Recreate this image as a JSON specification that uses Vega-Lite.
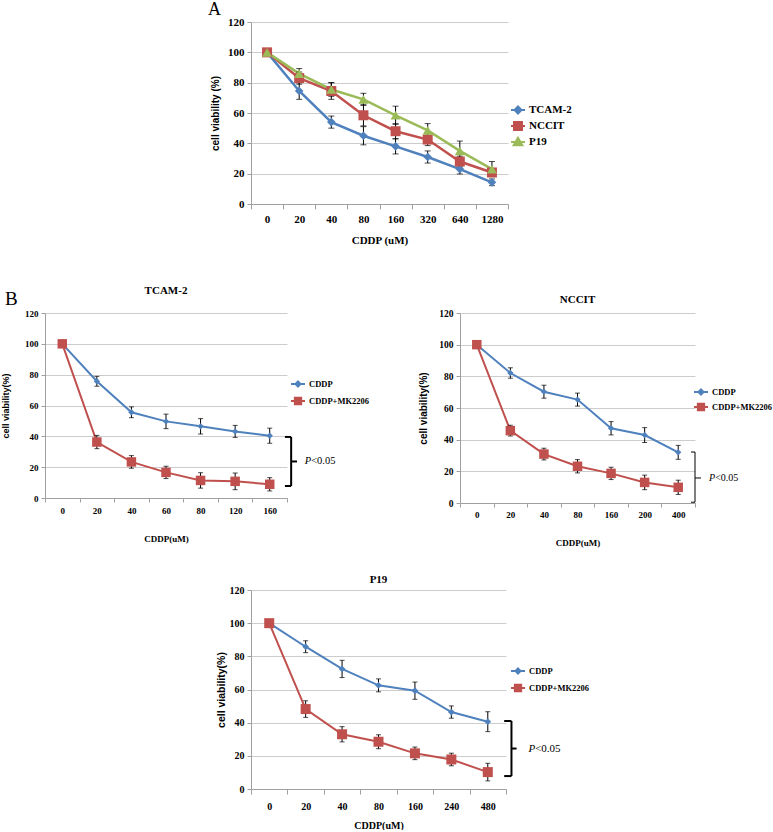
{
  "$schema": "https://vega.github.io/schema/vega-lite/v6.json",
  "background": "white",
  "padding": {"left": 1, "top": 0, "right": 0, "bottom": 0},
  "config": {
    "view": {"stroke": null},
    "axis": {"labelFont": "Liberation Serif", "labelFontWeight": "bold", "labelColor": "#000000", "domainColor": "#a0a0a0", "tickColor": "#a0a0a0", "gridColor": "#cccccc", "titleColor": "#000000", "titleFontWeight": "bold"},
    "legend": {"labelFont": "Liberation Serif", "labelFontWeight": "bold", "labelColor": "#000000", "padding": 0},
    "title": {"font": "Liberation Serif", "fontWeight": "bold", "color": "#000000"}
  },
  "datasets": {
    "A": [
      {"s": "TCAM-2", "dose": "0", "i": 0, "v": 100, "e": 0},
      {"s": "TCAM-2", "dose": "20", "i": 1, "v": 74.5, "e": 5.5},
      {"s": "TCAM-2", "dose": "40", "i": 2, "v": 54, "e": 4},
      {"s": "TCAM-2", "dose": "80", "i": 3, "v": 45, "e": 6},
      {"s": "TCAM-2", "dose": "160", "i": 4, "v": 38, "e": 5},
      {"s": "TCAM-2", "dose": "320", "i": 5, "v": 31, "e": 4},
      {"s": "TCAM-2", "dose": "640", "i": 6, "v": 23, "e": 3.2},
      {"s": "TCAM-2", "dose": "1280", "i": 7, "v": 14.3, "e": 2.2},
      {"s": "NCCIT", "dose": "0", "i": 0, "v": 100, "e": 0},
      {"s": "NCCIT", "dose": "20", "i": 1, "v": 83, "e": 4},
      {"s": "NCCIT", "dose": "40", "i": 2, "v": 74.5, "e": 5.5},
      {"s": "NCCIT", "dose": "80", "i": 3, "v": 58.5, "e": 7},
      {"s": "NCCIT", "dose": "160", "i": 4, "v": 48, "e": 5},
      {"s": "NCCIT", "dose": "320", "i": 5, "v": 42.5, "e": 4},
      {"s": "NCCIT", "dose": "640", "i": 6, "v": 28, "e": 3.5},
      {"s": "NCCIT", "dose": "1280", "i": 7, "v": 20.8, "e": 2.5},
      {"s": "P19", "dose": "0", "i": 0, "v": 100, "e": 0},
      {"s": "P19", "dose": "20", "i": 1, "v": 86, "e": 3.3},
      {"s": "P19", "dose": "40", "i": 2, "v": 75.5, "e": 4.5},
      {"s": "P19", "dose": "80", "i": 3, "v": 69, "e": 4},
      {"s": "P19", "dose": "160", "i": 4, "v": 58.5, "e": 6},
      {"s": "P19", "dose": "320", "i": 5, "v": 48.5, "e": 4.5},
      {"s": "P19", "dose": "640", "i": 6, "v": 35, "e": 6.5},
      {"s": "P19", "dose": "1280", "i": 7, "v": 23, "e": 5}
    ],
    "T": [
      {"s": "CDDP", "dose": "0", "i": 0, "v": 100, "e": 0},
      {"s": "CDDP", "dose": "20", "i": 1, "v": 75.7, "e": 3.2},
      {"s": "CDDP", "dose": "40", "i": 2, "v": 55.6, "e": 3.5},
      {"s": "CDDP", "dose": "60", "i": 3, "v": 49.7, "e": 4.7},
      {"s": "CDDP", "dose": "80", "i": 4, "v": 46.5, "e": 5},
      {"s": "CDDP", "dose": "120", "i": 5, "v": 43.2, "e": 3.9},
      {"s": "CDDP", "dose": "160", "i": 6, "v": 40.4, "e": 4.9},
      {"s": "CDDP+MK2206", "dose": "0", "i": 0, "v": 100, "e": 0},
      {"s": "CDDP+MK2206", "dose": "20", "i": 1, "v": 36.3, "e": 4.3},
      {"s": "CDDP+MK2206", "dose": "40", "i": 2, "v": 23.4, "e": 4.1},
      {"s": "CDDP+MK2206", "dose": "60", "i": 3, "v": 16.6, "e": 4},
      {"s": "CDDP+MK2206", "dose": "80", "i": 4, "v": 11.4, "e": 5},
      {"s": "CDDP+MK2206", "dose": "120", "i": 5, "v": 10.8, "e": 5.4},
      {"s": "CDDP+MK2206", "dose": "160", "i": 6, "v": 8.9, "e": 4.3}
    ],
    "N": [
      {"s": "CDDP", "dose": "0", "i": 0, "v": 100, "e": 0},
      {"s": "CDDP", "dose": "20", "i": 1, "v": 82.1, "e": 3.3},
      {"s": "CDDP", "dose": "40", "i": 2, "v": 70.3, "e": 4.1},
      {"s": "CDDP", "dose": "80", "i": 3, "v": 65.3, "e": 4.1},
      {"s": "CDDP", "dose": "160", "i": 4, "v": 47.2, "e": 4.2},
      {"s": "CDDP", "dose": "200", "i": 5, "v": 42.9, "e": 4.7},
      {"s": "CDDP", "dose": "400", "i": 6, "v": 32, "e": 4.4},
      {"s": "CDDP+MK2206", "dose": "0", "i": 0, "v": 100, "e": 0},
      {"s": "CDDP+MK2206", "dose": "20", "i": 1, "v": 45.7, "e": 3.4},
      {"s": "CDDP+MK2206", "dose": "40", "i": 2, "v": 30.9, "e": 3.7},
      {"s": "CDDP+MK2206", "dose": "80", "i": 3, "v": 23.2, "e": 4.2},
      {"s": "CDDP+MK2206", "dose": "160", "i": 4, "v": 18.7, "e": 3.9},
      {"s": "CDDP+MK2206", "dose": "200", "i": 5, "v": 13, "e": 4.6},
      {"s": "CDDP+MK2206", "dose": "400", "i": 6, "v": 9.9, "e": 4.5}
    ],
    "P": [
      {"s": "CDDP", "dose": "0", "i": 0, "v": 100, "e": 0},
      {"s": "CDDP", "dose": "20", "i": 1, "v": 85.8, "e": 3.6},
      {"s": "CDDP", "dose": "40", "i": 2, "v": 72.4, "e": 5.2},
      {"s": "CDDP", "dose": "80", "i": 3, "v": 62.5, "e": 3.9},
      {"s": "CDDP", "dose": "160", "i": 4, "v": 59.3, "e": 5.2},
      {"s": "CDDP", "dose": "240", "i": 5, "v": 46.4, "e": 3.7},
      {"s": "CDDP", "dose": "480", "i": 6, "v": 40.6, "e": 6},
      {"s": "CDDP+MK2206", "dose": "0", "i": 0, "v": 100, "e": 0},
      {"s": "CDDP+MK2206", "dose": "20", "i": 1, "v": 48.2, "e": 5},
      {"s": "CDDP+MK2206", "dose": "40", "i": 2, "v": 33, "e": 4.6},
      {"s": "CDDP+MK2206", "dose": "80", "i": 3, "v": 28.5, "e": 4.2},
      {"s": "CDDP+MK2206", "dose": "160", "i": 4, "v": 21.5, "e": 3.8},
      {"s": "CDDP+MK2206", "dose": "240", "i": 5, "v": 17.8, "e": 3.8},
      {"s": "CDDP+MK2206", "dose": "480", "i": 6, "v": 10.2, "e": 5.3}
    ],
    "brT": [
      {"x": 6.62, "x2": 6.62, "y": 7.8, "y2": 39.6},
      {"x": 6.44, "x2": 6.62, "y": 39.6, "y2": 39.6},
      {"x": 6.44, "x2": 6.62, "y": 7.8, "y2": 7.8},
      {"x": 6.62, "x2": 6.79, "y": 23.7, "y2": 23.7}
    ],
    "brN": [
      {"x": 6.5, "x2": 6.5, "y": 0.5, "y2": 32.2},
      {"x": 6.38, "x2": 6.5, "y": 32.2, "y2": 32.2},
      {"x": 6.38, "x2": 6.5, "y": 0.5, "y2": 0.5},
      {"x": 6.5, "x2": 6.68, "y": 15.8, "y2": 15.8}
    ],
    "brP": [
      {"x": 6.65, "x2": 6.65, "y": 7.8, "y2": 41},
      {"x": 6.45, "x2": 6.65, "y": 41, "y2": 41},
      {"x": 6.45, "x2": 6.65, "y": 7.8, "y2": 7.8},
      {"x": 6.65, "x2": 6.79, "y": 24.4, "y2": 24.4}
    ],
    "one": [{"n": 1}]
  },
  "spacing": 0,
  "resolve": {"scale": {"color": "independent"}, "legend": {"color": "independent"}},
  "vconcat": [
    {
      "hconcat": [
        {"width": 206, "height": 262, "data": {"name": "one"}, "mark": {"type": "text", "text": ""}, "encoding": {}},
        {
          "width": 257, "height": 182,
          "resolve": {"axis": {"x": "independent", "y": "independent"}},
          "layer": [
            {
              "data": {"name": "A"},
              "mark": {"type": "line", "strokeWidth": 2.5},
              "encoding": {
                "x": {"field": "i", "type": "quantitative", "scale": {"domain": [-0.5, 7.5], "nice": false, "zero": false},
                  "axis": {"title": "CDDP (uM)", "titleFont": "Liberation Serif", "titleFontSize": 11, "titlePadding": 10, "labelFontSize": 11, "grid": false,
                    "values": [-0.5, 0, 0.5, 1, 1.5, 2, 2.5, 3, 3.5, 4, 4.5, 5, 5.5, 6, 6.5, 7, 7.5],
                    "labelExpr": "datum.value === 0 ? '0' : datum.value === 1 ? '20' : datum.value === 2 ? '40' : datum.value === 3 ? '80' : datum.value === 4 ? '160' : datum.value === 5 ? '320' : datum.value === 6 ? '640' : datum.value === 7 ? '1280' : ''",
                    "tickOpacity": {"condition": {"test": "datum.value % 1 !== 0", "value": 1}, "value": 0},
                    "tickSize": 5, "labelPadding": 4, "labelOverlap": false, "labelFlush": false, "labelBound": false}},
                "y": {"field": "v", "type": "quantitative", "scale": {"domain": [0, 120], "nice": false},
                  "axis": {"title": "cell viability (%)", "titleFont": "Liberation Sans", "titleFontSize": 10, "titlePadding": 7, "labelFontSize": 11, "values": [0, 20, 40, 60, 80, 100, 120], "labelOverlap": false, "grid": true, "tickSize": 4, "labelPadding": 3}},
                "color": {"field": "s", "type": "nominal", "scale": {"domain": ["TCAM-2", "NCCIT", "P19"], "range": ["#4F81BD", "#C0504D", "#9BBB59"]},
                  "legend": {"orient": "none", "legendX": 259, "legendY": 80, "title": null, "labelFontSize": 11, "symbolSize": 196, "symbolStrokeWidth": 2, "rowPadding": -5, "labelOffset": 3,
                    "encode": {"symbols": {"update": {
                      "shape": {"signal": "datum.value === 'TCAM-2' ? 'M-1,0H1M0,-0.5L0.5,0L0,0.5L-0.5,0Z' : datum.value === 'NCCIT' ? 'M-1,0H1M-0.57,-0.57H0.57V0.57H-0.57Z' : 'M-1,0H1M0,-0.62L0.62,0.45H-0.62Z'"},
                      "fill": {"signal": "datum.value === 'TCAM-2' ? '#4F81BD' : datum.value === 'NCCIT' ? '#C0504D' : '#9BBB59'"},
                      "strokeWidth": {"value": 2}}}}}}
              }
            },
            {
              "data": {"name": "A"},
              "transform": [{"filter": "datum.e > 0"}],
              "mark": {"type": "errorbar", "color": "#000000", "ticks": {"size": 6}},
              "encoding": {"x": {"field": "i", "type": "quantitative", "axis": null}, "y": {"field": "v", "type": "quantitative", "axis": null}, "yError": {"field": "e"}}
            },
            {
              "data": {"name": "A"},
              "transform": [{"filter": "datum.s === 'TCAM-2'"}],
              "mark": {"type": "point", "filled": true, "opacity": 1, "shape": "diamond", "size": 75, "color": "#4F81BD"},
              "encoding": {"x": {"field": "i", "type": "quantitative", "axis": null}, "y": {"field": "v", "type": "quantitative", "axis": null}}
            },
            {
              "data": {"name": "A"},
              "transform": [{"filter": "datum.s === 'NCCIT'"}],
              "mark": {"type": "point", "filled": true, "opacity": 1, "shape": "square", "size": 100, "color": "#C0504D"},
              "encoding": {"x": {"field": "i", "type": "quantitative", "axis": null}, "y": {"field": "v", "type": "quantitative", "axis": null}}
            },
            {
              "data": {"name": "A"},
              "transform": [{"filter": "datum.s === 'P19'"}],
              "mark": {"type": "point", "filled": true, "opacity": 1, "shape": "triangle-up", "size": 100, "color": "#9BBB59"},
              "encoding": {"x": {"field": "i", "type": "quantitative", "axis": null}, "y": {"field": "v", "type": "quantitative", "axis": null}}
            },
            {
              "data": {"name": "one"},
              "mark": {"type": "text", "text": "A", "font": "Liberation Serif", "fontSize": 18, "align": "center", "baseline": "middle", "color": "#000000"},
              "encoding": {"x": {"datum": -1.64, "type": "quantitative", "axis": null}, "y": {"datum": 128.2, "type": "quantitative", "axis": null}}
            }
          ]
        }
      ],
      "bounds": "flush",
      "spacing": 0,
      "resolve": {"scale": {"color": "independent"}, "legend": {"color": "independent"}}
    },
    {
      "hconcat": [
        {
          "width": 242, "height": 185,
          "resolve": {"axis": {"x": "independent", "y": "independent"}},
          "layer": [
            {
              "data": {"name": "T"},
              "mark": {"type": "line", "strokeWidth": 2},
              "encoding": {
                "x": {"field": "i", "type": "quantitative", "scale": {"domain": [-0.5, 6.5], "nice": false, "zero": false},
                  "axis": {"title": "CDDP(uM)", "titleFont": "Liberation Serif", "titleFontSize": 9, "titlePadding": 19, "labelFontSize": 9, "grid": false,
                    "values": [-0.5, 0, 0.5, 1, 1.5, 2, 2.5, 3, 3.5, 4, 4.5, 5, 5.5, 6, 6.5],
                    "labelExpr": "datum.value === 0 ? '0' : datum.value === 1 ? '20' : datum.value === 2 ? '40' : datum.value === 3 ? '60' : datum.value === 4 ? '80' : datum.value === 5 ? '120' : datum.value === 6 ? '160' : ''",
                    "tickOpacity": {"condition": {"test": "datum.value % 1 !== 0", "value": 1}, "value": 0},
                    "tickSize": 4, "labelPadding": 4, "labelOverlap": false, "labelFlush": false, "labelBound": false}},
                "y": {"field": "v", "type": "quantitative", "scale": {"domain": [0, 120], "nice": false},
                  "axis": {"title": "cell viability(%)", "titleFont": "Liberation Sans", "titleFontSize": 9, "titlePadding": 14, "labelFontSize": 9, "values": [0, 20, 40, 60, 80, 100, 120], "labelOverlap": false, "grid": true, "tickSize": 4, "labelPadding": 3}},
                "color": {"field": "s", "type": "nominal", "scale": {"domain": ["CDDP", "CDDP+MK2206"], "range": ["#4F81BD", "#C0504D"]},
                  "legend": {"orient": "none", "legendX": 245, "legendY": 63, "title": null, "labelFontSize": 8.5, "symbolSize": 196, "symbolStrokeWidth": 2, "rowPadding": 2, "labelOffset": 3,
                    "encode": {"symbols": {"update": {
                      "shape": {"signal": "datum.value === 'CDDP' ? 'M-1,0H1M0,-0.36L0.36,0L0,0.36L-0.36,0Z' : 'M-1,0H1M-0.45,-0.45H0.45V0.45H-0.45Z'"},
                      "fill": {"signal": "datum.value === 'CDDP' ? '#4F81BD' : '#C0504D'"},
                      "strokeWidth": {"value": 2}}}}}}
              }
            },
            {
              "data": {"name": "T"},
              "transform": [{"filter": "datum.e > 0"}],
              "mark": {"type": "errorbar", "color": "#000000", "ticks": {"size": 5}},
              "encoding": {"x": {"field": "i", "type": "quantitative", "axis": null}, "y": {"field": "v", "type": "quantitative", "axis": null}, "yError": {"field": "e"}}
            },
            {
              "data": {"name": "T"},
              "transform": [{"filter": "datum.s === 'CDDP'"}],
              "mark": {"type": "point", "filled": true, "opacity": 1, "shape": "diamond", "size": 40, "color": "#4F81BD"},
              "encoding": {"x": {"field": "i", "type": "quantitative", "axis": null}, "y": {"field": "v", "type": "quantitative", "axis": null}}
            },
            {
              "data": {"name": "T"},
              "transform": [{"filter": "datum.s === 'CDDP+MK2206'"}],
              "mark": {"type": "point", "filled": true, "opacity": 1, "shape": "square", "size": 90, "color": "#C0504D"},
              "encoding": {"x": {"field": "i", "type": "quantitative", "axis": null}, "y": {"field": "v", "type": "quantitative", "axis": null}}
            },
            {
              "data": {"name": "brT"},
              "mark": {"type": "rule", "color": "#000000", "strokeWidth": 2},
              "encoding": {"x": {"field": "x", "type": "quantitative", "axis": null}, "x2": {"field": "x2"}, "y": {"field": "y", "type": "quantitative", "axis": null}, "y2": {"field": "y2"}}
            },
            {
              "data": {"name": "one"},
              "mark": {"type": "text", "text": "P", "font": "Liberation Serif", "fontSize": 10.5, "fontStyle": "italic", "align": "right", "baseline": "middle", "color": "#000000"},
              "encoding": {"x": {"datum": 7.2, "type": "quantitative", "axis": null}, "y": {"datum": 23.7, "type": "quantitative", "axis": null}}
            },
            {
              "data": {"name": "one"},
              "mark": {"type": "text", "text": "<0.05", "font": "Liberation Serif", "fontSize": 10.5, "align": "left", "baseline": "middle", "color": "#000000"},
              "encoding": {"x": {"datum": 7.2, "type": "quantitative", "axis": null}, "y": {"datum": 23.7, "type": "quantitative", "axis": null}}
            },
            {
              "data": {"name": "one"},
              "mark": {"type": "text", "text": "B", "font": "Liberation Serif", "fontSize": 19, "align": "center", "baseline": "middle", "color": "#000000"},
              "encoding": {"x": {"datum": -1.47, "type": "quantitative", "axis": null}, "y": {"datum": 129.4, "type": "quantitative", "axis": null}}
            },
            {
              "data": {"name": "one"},
              "mark": {"type": "text", "text": "TCAM-2", "font": "Liberation Serif", "fontWeight": "bold", "fontSize": 11, "align": "center", "baseline": "middle", "color": "#000000"},
              "encoding": {"x": {"datum": 3, "type": "quantitative", "axis": null}, "y": {"datum": 134.3, "type": "quantitative", "axis": null}}
            }
          ]
        },
        {"width": 173, "height": 261, "data": {"name": "one"}, "mark": {"type": "text", "text": ""}, "encoding": {}},
        {
          "width": 235, "height": 190,
          "title": {"text": "NCCIT", "fontSize": 11, "offset": 3},
          "resolve": {"axis": {"x": "independent", "y": "independent"}},
          "layer": [
            {
              "data": {"name": "N"},
              "mark": {"type": "line", "strokeWidth": 2},
              "encoding": {
                "x": {"field": "i", "type": "quantitative", "scale": {"domain": [-0.5, 6.5], "nice": false, "zero": false},
                  "axis": {"title": "CDDP(uM)", "titleFont": "Liberation Serif", "titleFontSize": 9, "titlePadding": 19, "labelFontSize": 9, "grid": false,
                    "values": [-0.5, 0, 0.5, 1, 1.5, 2, 2.5, 3, 3.5, 4, 4.5, 5, 5.5, 6, 6.5],
                    "labelExpr": "datum.value === 0 ? '0' : datum.value === 1 ? '20' : datum.value === 2 ? '40' : datum.value === 3 ? '80' : datum.value === 4 ? '160' : datum.value === 5 ? '200' : datum.value === 6 ? '400' : ''",
                    "tickOpacity": {"condition": {"test": "datum.value % 1 !== 0", "value": 1}, "value": 0},
                    "tickSize": 4, "labelPadding": 3, "labelOverlap": false, "labelFlush": false, "labelBound": false}},
                "y": {"field": "v", "type": "quantitative", "scale": {"domain": [0, 120], "nice": false},
                  "axis": {"title": "cell viability(%)", "titleFont": "Liberation Sans", "titleFontSize": 10, "titlePadding": 10, "labelFontSize": 9.5, "values": [0, 20, 40, 60, 80, 100, 120], "labelOverlap": false, "grid": true, "tickSize": 4, "labelPadding": 3}},
                "color": {"field": "s", "type": "nominal", "scale": {"domain": ["CDDP", "CDDP+MK2206"], "range": ["#4F81BD", "#C0504D"]},
                  "legend": {"orient": "none", "legendX": 233, "legendY": 71, "title": null, "labelFontSize": 8.5, "symbolSize": 196, "symbolStrokeWidth": 2, "rowPadding": -1, "labelOffset": 3,
                    "encode": {"symbols": {"update": {
                      "shape": {"signal": "datum.value === 'CDDP' ? 'M-1,0H1M0,-0.36L0.36,0L0,0.36L-0.36,0Z' : 'M-1,0H1M-0.45,-0.45H0.45V0.45H-0.45Z'"},
                      "fill": {"signal": "datum.value === 'CDDP' ? '#4F81BD' : '#C0504D'"},
                      "strokeWidth": {"value": 2}}}}}}
              }
            },
            {
              "data": {"name": "N"},
              "transform": [{"filter": "datum.e > 0"}],
              "mark": {"type": "errorbar", "color": "#000000", "ticks": {"size": 5}},
              "encoding": {"x": {"field": "i", "type": "quantitative", "axis": null}, "y": {"field": "v", "type": "quantitative", "axis": null}, "yError": {"field": "e"}}
            },
            {
              "data": {"name": "N"},
              "transform": [{"filter": "datum.s === 'CDDP'"}],
              "mark": {"type": "point", "filled": true, "opacity": 1, "shape": "diamond", "size": 40, "color": "#4F81BD"},
              "encoding": {"x": {"field": "i", "type": "quantitative", "axis": null}, "y": {"field": "v", "type": "quantitative", "axis": null}}
            },
            {
              "data": {"name": "N"},
              "transform": [{"filter": "datum.s === 'CDDP+MK2206'"}],
              "mark": {"type": "point", "filled": true, "opacity": 1, "shape": "square", "size": 90, "color": "#C0504D"},
              "encoding": {"x": {"field": "i", "type": "quantitative", "axis": null}, "y": {"field": "v", "type": "quantitative", "axis": null}}
            },
            {
              "data": {"name": "brN"},
              "mark": {"type": "rule", "color": "#000000", "strokeWidth": 1},
              "encoding": {"x": {"field": "x", "type": "quantitative", "axis": null}, "x2": {"field": "x2"}, "y": {"field": "y", "type": "quantitative", "axis": null}, "y2": {"field": "y2"}}
            },
            {
              "data": {"name": "one"},
              "mark": {"type": "text", "text": "P", "font": "Liberation Serif", "fontSize": 10, "fontStyle": "italic", "align": "right", "baseline": "middle", "color": "#000000"},
              "encoding": {"x": {"datum": 7.1, "type": "quantitative", "axis": null}, "y": {"datum": 15.8, "type": "quantitative", "axis": null}}
            },
            {
              "data": {"name": "one"},
              "mark": {"type": "text", "text": "<0.05", "font": "Liberation Serif", "fontSize": 10, "align": "left", "baseline": "middle", "color": "#000000"},
              "encoding": {"x": {"datum": 7.1, "type": "quantitative", "axis": null}, "y": {"datum": 15.8, "type": "quantitative", "axis": null}}
            }
          ]
        }
      ],
      "bounds": "flush",
      "spacing": 0,
      "resolve": {"scale": {"color": "independent"}, "legend": {"color": "independent"}}
    },
    {
      "hconcat": [
        {"width": 206, "height": 10, "data": {"name": "one"}, "mark": {"type": "text", "text": ""}, "encoding": {}},
        {
          "width": 255, "height": 199,
          "title": {"text": "P19", "fontSize": 11, "offset": 0},
          "resolve": {"axis": {"x": "independent", "y": "independent"}},
          "layer": [
            {
              "data": {"name": "P"},
              "mark": {"type": "line", "strokeWidth": 2},
              "encoding": {
                "x": {"field": "i", "type": "quantitative", "scale": {"domain": [-0.5, 6.5], "nice": false, "zero": false},
                  "axis": {"title": "CDDP(uM)", "titleFont": "Liberation Serif", "titleFontSize": 10, "titlePadding": 9, "labelFontSize": 10, "grid": false,
                    "values": [-0.5, 0, 0.5, 1, 1.5, 2, 2.5, 3, 3.5, 4, 4.5, 5, 5.5, 6, 6.5],
                    "labelExpr": "datum.value === 0 ? '0' : datum.value === 1 ? '20' : datum.value === 2 ? '40' : datum.value === 3 ? '80' : datum.value === 4 ? '160' : datum.value === 5 ? '240' : datum.value === 6 ? '480' : ''",
                    "tickOpacity": {"condition": {"test": "datum.value % 1 !== 0", "value": 1}, "value": 0},
                    "tickSize": 5, "labelPadding": 7, "labelOverlap": false, "labelFlush": false, "labelBound": false}},
                "y": {"field": "v", "type": "quantitative", "scale": {"domain": [0, 120], "nice": false},
                  "axis": {"title": "cell viability(%)", "titleFont": "Liberation Sans", "titleFontSize": 10.5, "titlePadding": 3, "labelFontSize": 10, "values": [0, 20, 40, 60, 80, 100, 120], "labelOverlap": false, "grid": true, "tickSize": 4, "labelPadding": 3}},
                "color": {"field": "s", "type": "nominal", "scale": {"domain": ["CDDP", "CDDP+MK2206"], "range": ["#4F81BD", "#C0504D"]},
                  "legend": {"orient": "none", "legendX": 259, "legendY": 73, "title": null, "labelFontSize": 8.5, "symbolSize": 196, "symbolStrokeWidth": 2, "rowPadding": 2, "labelOffset": 3,
                    "encode": {"symbols": {"update": {
                      "shape": {"signal": "datum.value === 'CDDP' ? 'M-1,0H1M0,-0.36L0.36,0L0,0.36L-0.36,0Z' : 'M-1,0H1M-0.45,-0.45H0.45V0.45H-0.45Z'"},
                      "fill": {"signal": "datum.value === 'CDDP' ? '#4F81BD' : '#C0504D'"},
                      "strokeWidth": {"value": 2}}}}}}
              }
            },
            {
              "data": {"name": "P"},
              "transform": [{"filter": "datum.e > 0"}],
              "mark": {"type": "errorbar", "color": "#000000", "ticks": {"size": 5}},
              "encoding": {"x": {"field": "i", "type": "quantitative", "axis": null}, "y": {"field": "v", "type": "quantitative", "axis": null}, "yError": {"field": "e"}}
            },
            {
              "data": {"name": "P"},
              "transform": [{"filter": "datum.s === 'CDDP'"}],
              "mark": {"type": "point", "filled": true, "opacity": 1, "shape": "diamond", "size": 45, "color": "#4F81BD"},
              "encoding": {"x": {"field": "i", "type": "quantitative", "axis": null}, "y": {"field": "v", "type": "quantitative", "axis": null}}
            },
            {
              "data": {"name": "P"},
              "transform": [{"filter": "datum.s === 'CDDP+MK2206'"}],
              "mark": {"type": "point", "filled": true, "opacity": 1, "shape": "square", "size": 100, "color": "#C0504D"},
              "encoding": {"x": {"field": "i", "type": "quantitative", "axis": null}, "y": {"field": "v", "type": "quantitative", "axis": null}}
            },
            {
              "data": {"name": "brP"},
              "mark": {"type": "rule", "color": "#000000", "strokeWidth": 2},
              "encoding": {"x": {"field": "x", "type": "quantitative", "axis": null}, "x2": {"field": "x2"}, "y": {"field": "y", "type": "quantitative", "axis": null}, "y2": {"field": "y2"}}
            },
            {
              "data": {"name": "one"},
              "mark": {"type": "text", "text": "P", "font": "Liberation Serif", "fontSize": 11, "fontStyle": "italic", "align": "right", "baseline": "middle", "color": "#000000"},
              "encoding": {"x": {"datum": 7.3, "type": "quantitative", "axis": null}, "y": {"datum": 24.4, "type": "quantitative", "axis": null}}
            },
            {
              "data": {"name": "one"},
              "mark": {"type": "text", "text": "<0.05", "font": "Liberation Serif", "fontSize": 11, "align": "left", "baseline": "middle", "color": "#000000"},
              "encoding": {"x": {"datum": 7.3, "type": "quantitative", "axis": null}, "y": {"datum": 24.4, "type": "quantitative", "axis": null}}
            }
          ]
        }
      ],
      "bounds": "flush",
      "spacing": 0,
      "resolve": {"scale": {"color": "independent"}, "legend": {"color": "independent"}}
    }
  ]
}
